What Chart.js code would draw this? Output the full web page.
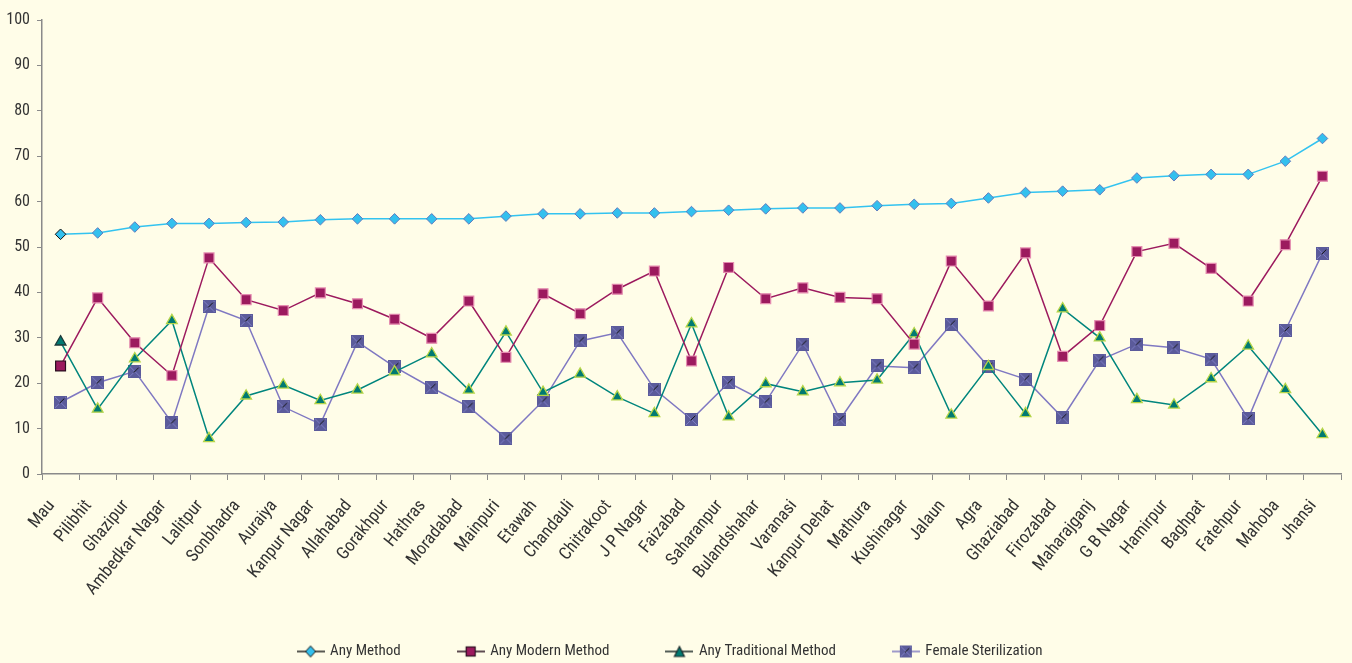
<!DOCTYPE html>
<html>
<head>
<meta charset="utf-8">
<title>Contraceptive use by district</title>
<script src="https://cdn.jsdelivr.net/npm/chart.js@4.4.1/dist/chart.umd.min.js"></script>
<style>
  html, body { margin: 0; padding: 0; background: #fffde8; }
  #wrap { width: 1352px; height: 663px; }
</style>
</head>
<body>
<div id="wrap"><canvas id="chart" width="1352" height="663"></canvas></div>
<script>
// District order (sorted by Any Method)
const districts = [
  'Mau', 'Pilibhit', 'Ghazipur', 'Ambedkar Nagar', 'Lalitpur', 'Sonbhadra', 'Auraiya',
  'Kanpur Nagar', 'Allahabad', 'Gorakhpur', 'Hathras', 'Moradabad', 'Mainpuri', 'Etawah',
  'Chandauli', 'Chitrakoot', 'J P Nagar', 'Faizabad', 'Saharanpur', 'Bulandshahar',
  'Varanasi', 'Kanpur Dehat', 'Mathura', 'Kushinagar', 'Jalaun', 'Agra', 'Ghaziabad',
  'Firozabad', 'Maharajganj', 'G B Nagar', 'Hamirpur', 'Baghpat', 'Fatehpur', 'Mahoba', 'Jhansi',
];

const anyMethod = [
  52.8, 53.1, 54.4, 55.2, 55.2, 55.4, 55.5, 56.0, 56.2, 56.2, 56.2, 56.2, 56.8, 57.3, 57.3,
  57.5, 57.5, 57.8, 58.1, 58.4, 58.6, 58.6, 59.1, 59.4, 59.6, 60.8, 62.0, 62.3, 62.6, 65.2,
  65.7, 66.0, 66.0, 68.9, 73.9,
];
const anyModern = [
  23.8, 38.8, 28.9, 21.7, 47.6, 38.4, 36.0, 39.9, 37.5, 34.1, 29.9, 38.1, 25.7, 39.7, 35.3,
  40.7, 44.7, 24.9, 45.5, 38.6, 41.0, 38.9, 38.6, 28.6, 46.9, 37.0, 48.7, 25.9, 32.7, 49.0,
  50.8, 45.3, 38.1, 50.5, 65.6,
];
const anyTraditional = [
  29.1, 14.3, 25.4, 33.8, 7.8, 17.2, 19.6, 16.2, 18.5, 22.5, 26.5, 18.5, 31.3, 18.0, 22.0,
  17.0, 13.3, 33.1, 12.6, 19.9, 18.1, 20.1, 20.7, 30.9, 13.0, 23.7, 13.3, 36.4, 30.0, 16.4,
  15.2, 21.0, 28.2, 18.6, 8.7,
];
const femaleSterilization = [
  15.8, 20.1, 22.6, 11.3, 36.9, 33.8, 14.8, 11.0, 29.1, 23.6, 19.0, 14.8, 7.9, 16.1, 29.3,
  31.1, 18.7, 12.0, 20.1, 15.9, 28.6, 12.0, 23.8, 23.4, 33.0, 23.6, 20.9, 12.4, 25.1, 28.6,
  27.8, 25.3, 12.2, 31.6, 48.6,
];

const yTicks = { min: 0, max: 100, step: 10 };

const FONT = "'Roboto Condensed', 'Liberation Sans Narrow', 'Liberation Sans', Arial, sans-serif";
const TEXT = '#333333';
const AXIS = '#8a8a8a';

// marker painters, used for the sterilization points and the legend icons
function paintDiamond(g, x, y, border) {
  g.beginPath();
  g.moveTo(x - 5, y); g.lineTo(x, y - 5.5); g.lineTo(x + 5, y); g.lineTo(x, y + 5.5);
  g.closePath();
  g.fillStyle = '#33c0ee'; g.fill();
  g.strokeStyle = border; g.lineWidth = 1; g.stroke();
}
function paintSquare(g, x, y, border) {
  g.fillStyle = '#9c1a5e';
  g.fillRect(x - 4.5, y - 4.5, 9, 9);
  g.strokeStyle = border; g.lineWidth = 1.2;
  g.strokeRect(x - 4.5, y - 4.5, 9, 9);
}
function paintTriangle(g, x, y, border) {
  g.beginPath();
  g.moveTo(x, y - 6); g.lineTo(x + 5, y + 4); g.lineTo(x - 5, y + 4);
  g.closePath();
  g.fillStyle = '#007a72'; g.fill();
  g.strokeStyle = border; g.lineWidth = 1.2; g.stroke();
}
function paintXSquare(g, x, y, s) {
  const h = s / 2;
  g.fillStyle = '#5b5b9b';
  g.fillRect(x - h, y - h, s, s);
  g.strokeStyle = '#7f7fc6'; g.lineWidth = 1;
  g.beginPath();
  g.moveTo(x - h + 1, y - h + 1); g.lineTo(x + h - 1, y + h - 1);
  g.moveTo(x + h - 1, y - h + 1); g.lineTo(x - h + 1, y + h - 1);
  g.stroke();
  g.strokeStyle = '#151515';
  g.beginPath(); g.moveTo(x - 1, y + 1); g.lineTo(x + h - 2.5, y - h + 2.5); g.stroke();
}

function makeCanvas(w, h, paint) {
  const c = document.createElement('canvas');
  c.width = w; c.height = h;
  paint(c.getContext('2d'));
  return c;
}

const sterilPoint = makeCanvas(13, 13, (g) => paintXSquare(g, 6.5, 6.5, 13));

function legendIcon(lineColor, paint) {
  return makeCanvas(28, 14, (g) => {
    g.strokeStyle = lineColor; g.lineWidth = 1.5;
    g.beginPath(); g.moveTo(0, 7); g.lineTo(28, 7); g.stroke();
    paint(g);
  });
}
const legendIcons = [
  legendIcon('#222', (g) => paintDiamond(g, 14, 7, '#111')),
  legendIcon('#2a1020', (g) => paintSquare(g, 14, 7, '#2a1020')),
  legendIcon('#1c2a2a', (g) => paintTriangle(g, 14, 8, '#1c2a2a')),
  legendIcon('#7f78c2', (g) => paintXSquare(g, 14, 7, 12)),
];

// first point (Mau) carries a dark outline in the original
const firstDark = (dark, normal) => (ctx) => (ctx.dataIndex === 0 ? dark : normal);

const background = {
  id: 'background',
  beforeDraw(chart) {
    const { ctx, width, height } = chart;
    ctx.save();
    ctx.fillStyle = '#fffde8';
    ctx.fillRect(0, 0, width, height);
    ctx.restore();
  },
};

// the rotated district names run past the x box; let them show
const unclipLabels = {
  id: 'unclipLabels',
  afterLayout(chart) {
    chart.scales.x.bottom = chart.height;
  },
};

Chart.defaults.font.family = FONT;
Chart.defaults.color = TEXT;

new Chart(document.getElementById('chart'), {
  type: 'line',
  data: {
    labels: districts,
    datasets: [
      {
        label: 'Any Method',
        data: anyMethod,
        borderColor: '#33c3f0',
        borderWidth: 1.5,
        pointStyle: 'rectRot',
        pointRadius: 5.3,
        pointBackgroundColor: '#33c0ee',
        pointBorderColor: firstDark('#111', '#5f7cbf'),
        pointBorderWidth: 1,
      },
      {
        label: 'Any Modern Method',
        data: anyModern,
        borderColor: '#9c1a5e',
        borderWidth: 1.5,
        pointStyle: 'rect',
        pointRadius: 7,
        pointBackgroundColor: '#9c1a5e',
        pointBorderColor: firstDark('#2a1020', '#e58cb0'),
        pointBorderWidth: 1.2,
      },
      {
        label: 'Any Traditional Method',
        data: anyTraditional,
        borderColor: '#00857d',
        borderWidth: 1.5,
        pointStyle: 'triangle',
        pointRadius: 6.2,
        pointBackgroundColor: '#007a72',
        pointBorderColor: firstDark('#1c3a3a', '#b5d548'),
        pointBorderWidth: 1.3,
      },
      {
        label: 'Female Sterilization',
        data: femaleSterilization,
        borderColor: '#7f78c2',
        borderWidth: 1.5,
        pointStyle: sterilPoint,
        pointRadius: 6.5,
      },
    ],
  },
  options: {
    responsive: false,
    animation: false,
    devicePixelRatio: 1,
    events: [],
    layout: { padding: { top: 20, right: 11, left: 0, bottom: -6 } },
    scales: {
      x: {
        offset: true,
        grid: { offset: true, drawOnChartArea: false, tickLength: 6, color: AXIS, lineWidth: 1 },
        border: { color: AXIS, width: 1.5 },
        ticks: {
          autoSkip: false,
          minRotation: 51,
          maxRotation: 51,
          padding: 16,
          labelOffset: -9,
          color: TEXT,
          font: { size: 17.5 },
        },
        afterFit: (scale) => {
          scale.height = 112;
          scale.paddingLeft = 0;
          scale.paddingRight = 0;
        },
      },
      y: {
        min: yTicks.min,
        max: yTicks.max,
        grid: { drawOnChartArea: false, tickLength: 5, color: AXIS },
        border: { color: AXIS, width: 1.5 },
        ticks: { stepSize: yTicks.step, padding: 7, color: TEXT, font: { size: 16 } },
        afterFit: (scale) => { scale.width = 42; },
      },
    },
    plugins: {
      legend: {
        position: 'bottom',
        labels: {
          usePointStyle: true,
          pointStyleWidth: 24,
          padding: 58,
          color: TEXT,
          font: { size: 15 },
          generateLabels: (chart) => chart.data.datasets.map((ds, i) => ({
            text: ds.label,
            pointStyle: legendIcons[i],
            fillStyle: 'transparent',
            strokeStyle: 'transparent',
            lineWidth: 0,
            hidden: false,
            datasetIndex: i,
            fontColor: TEXT,
          })),
        },
      },
      tooltip: { enabled: false },
    },
  },
  plugins: [background, unclipLabels],
});
</script>
</body>
</html>
